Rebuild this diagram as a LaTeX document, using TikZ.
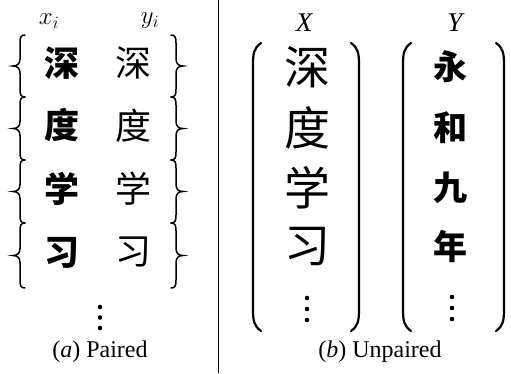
\documentclass[tikz,border=0pt]{standalone}
\usepackage{fontspec}
\setmainfont{Liberation Serif}
\newfontfamily\cjk{Noto Sans CJK SC}
% brace: direction s, tip x, top y, bottom y
\newcommand\mybrace[4]{%
  \pgfmathsetmacro\ym{(#3+#4)/2}%
  \draw[bracestyle] ({#2+#1*12},#3) .. controls ({#2+#1*8},#3) and ({#2+#1*7},{#3+2}) .. ({#2+#1*7},{#3+8})
     -- ({#2+#1*7},{\ym-7}) .. controls ({#2+#1*7},{\ym-2}) and ({#2+#1*4},\ym) .. (#2,\ym)
     .. controls ({#2+#1*4},\ym) and ({#2+#1*7},{\ym+2}) .. ({#2+#1*7},{\ym+7})
     -- ({#2+#1*7},{#4-8}) .. controls ({#2+#1*7},{#4-2}) and ({#2+#1*8},#4) .. ({#2+#1*12},#4);}
\newcommand\mypar[4]{%
  \draw[parstyle] ({#2+#1*8},#3) .. controls ({#2+#1*1},{#3+5}) and (#2,{#3+10}) .. (#2,{#3+22})
     -- (#2,{#4-22}) .. controls (#2,{#4-10}) and ({#2+#1*1},{#4-5}) .. ({#2+#1*8},#4);}
\begin{document}
\begin{tikzpicture}[x=1pt,y=-1pt,
  lab/.style={font=\fontsize{25}{25}\selectfont, inner sep=0},
  capt/.style={font=\fontsize{24}{24}\selectfont, inner sep=0},
  ca/.style={font=\fontsize{35}{35}\selectfont\cjk\bfseries, inner sep=0},
  cb/.style={font=\fontsize{36}{36}\selectfont\cjk, inner sep=0},
  cx/.style={font=\fontsize{46}{46}\selectfont\cjk, inner sep=0},
  cy/.style={font=\fontsize{34}{34}\selectfont\cjk\bfseries, inner sep=0},
  bracestyle/.style={line width=1.5pt, line cap=round},
  parstyle/.style={line width=2.2pt, line cap=round},
  dotfill/.style={fill=black}]
\useasboundingbox (0,0) rectangle (511,373);
% divider
\coordinate (dtop) at (218,0);
\coordinate (dbot) at (218,373);
\draw[line width=0.8pt] (dtop) -- (dbot);
% (a) paired
\node[lab] (xi) at (49,21) {$x_i$};
\node[lab] (yi) at (150,21) {$y_i$};
\foreach \ya/\yb/\a [count=\k] in {35/97/深,97/160/度,160/223/学,223/288/习}{
  \mybrace{1}{13}{\ya}{\yb}
  \mybrace{-1}{183}{\ya}{\yb}
  \node[ca] (pa\k) at (62,{(\ya+\yb)/2-3}) {\a};
  \node[cb] (pb\k) at (133,{(\ya+\yb)/2-3}) {\a};
}
\foreach \y in {307,317.5,328}{\fill[dotfill] (100,\y) circle (2.3);}
\node[capt] (capa) at (100,352) {(\textit{a}) Paired};
% (b) unpaired
\node[lab, font=\fontsize{27}{27}\selectfont\itshape] (X) at (304,23) {X};
\node[lab, font=\fontsize{27}{27}\selectfont\itshape] (Y) at (455,23) {Y};
\mypar{1}{253}{43}{331}
\mypar{-1}{359}{43}{331}
\mypar{1}{403}{43}{331}
\mypar{-1}{504}{43}{331}
\foreach \y/\a/\b [count=\k] in {67/深/永,128/度/和,188/学/九,247/习/年}{
  \node[cx] (ux\k) at (307,\y) {\a};
  \node[cy] (uy\k) at (450,\y) {\b};
}
\foreach \y in {298,309,320}{\fill[dotfill] (307,\y) circle (2.3);}
\foreach \y in {297,308,319}{\fill[dotfill] (452,\y) circle (2.3);}
\node[capt] (capb) at (380,352) {(\textit{b}) Unpaired};
\end{tikzpicture}
\end{document}
